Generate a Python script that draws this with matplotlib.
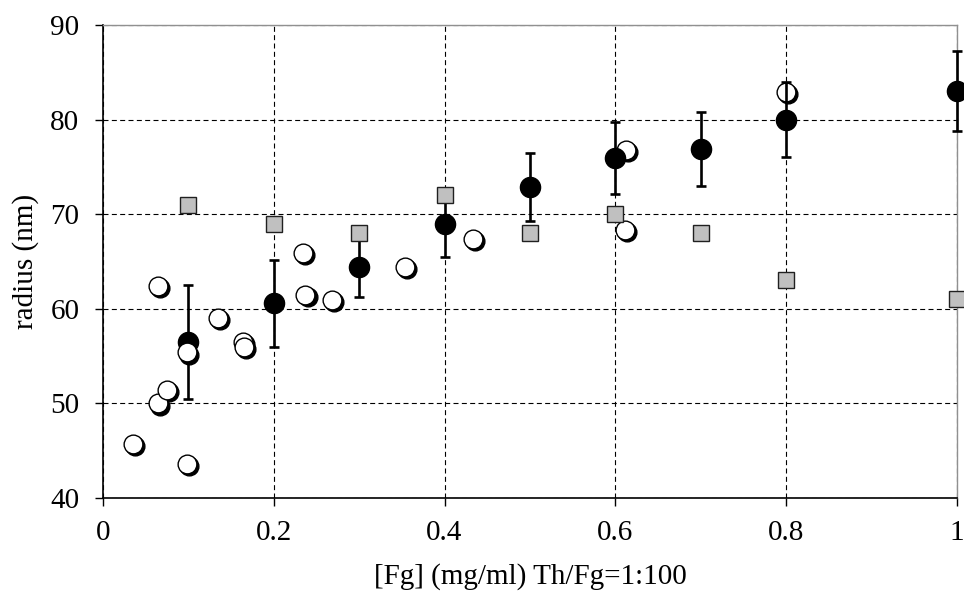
import matplotlib.pyplot as plt
from matplotlib.transforms import offset_copy

# -------------------------------------------------
# Data
# -------------------------------------------------
# mean radius with error bars (black circles)
fg_mean = [0.1, 0.2, 0.3, 0.4, 0.5, 0.6, 0.7, 0.8, 1.0]
r_mean = [56.5, 60.6, 64.4, 69.0, 72.9, 75.9, 76.9, 80.0, 83.0]
r_err = [6.0, 4.6, 3.2, 3.5, 3.6, 3.8, 3.9, 4.0, 4.2]

# grey squares
fg_sq = [0.1, 0.2, 0.3, 0.4, 0.5, 0.6, 0.7, 0.8, 1.0]
r_sq = [71.0, 69.0, 68.0, 72.0, 68.0, 70.0, 68.0, 63.0, 61.0]

# open circles (two runs)
fg_open1 = [0.035, 0.064, 0.064, 0.075, 0.098, 0.098, 0.135, 0.164, 0.165,
            0.234, 0.237, 0.268, 0.354, 0.433]
r_open1 = [45.7, 62.4, 50.0, 51.4, 55.4, 43.6, 59.0, 56.5, 56.0,
           65.9, 61.5, 60.9, 64.4, 67.4]
fg_open2 = [0.612, 0.611, 0.8]
r_open2 = [76.8, 68.3, 82.9]

# -------------------------------------------------
# Figure
# -------------------------------------------------
plt.rcParams['font.family'] = ['Liberation Serif', 'DejaVu Serif']

fig = plt.figure(figsize=(9.64, 6.01), dpi=100)
ax = fig.add_axes([0.1068, 0.1714, 0.8859, 0.787])


def open_circles(x, y, z):
    # black "shadow" a couple of pixels down-right, white disc on top
    shadow = offset_copy(ax.transData, fig=fig, x=2.2, y=-2.2, units='dots')
    ax.plot(x, y, 'o', ms=13.5, mfc='black', mec='black', mew=1,
            transform=shadow, zorder=z, clip_on=False)
    ax.plot(x, y, 'o', ms=13.5, mfc='white', mec='black', mew=1,
            zorder=z + 0.1, clip_on=False)


open_circles(fg_open2, r_open2, 3)

ax.errorbar(fg_mean, r_mean, yerr=r_err, fmt='o', color='black', ms=14.5,
            elinewidth=1.9, capsize=3.4, capthick=1.9, zorder=4, clip_on=False)

open_circles(fg_open1, r_open1, 5)

ax.plot(fg_sq, r_sq, 's', ms=12, mfc='#c0c0c0', mec='#202020', mew=1,
        zorder=6, clip_on=False)

# -------------------------------------------------
# Axes styling
# -------------------------------------------------
ax.set_xlim(0, 1)
ax.set_ylim(40, 90)
ax.set_xticks([0, 0.2, 0.4, 0.6, 0.8, 1.0])
ax.set_xticklabels(['0', '0.2', '0.4', '0.6', '0.8', '1'])
ax.set_yticks([40, 50, 60, 70, 80, 90])

ax.grid(True, color='black', linestyle=(0, (4.5, 3)), linewidth=0.8)
ax.set_axisbelow(True)

for s in ['top', 'right']:
    ax.spines[s].set_color('#909090')
    ax.spines[s].set_linewidth(1.0)
    ax.spines[s].set_zorder(2.5)
for s in ['left', 'bottom']:
    ax.spines[s].set_color('black')
    ax.spines[s].set_linewidth(1.2)

ax.tick_params(direction='out', length=6, width=1.0, labelsize=21)
ax.tick_params(axis='y', pad=11)
ax.tick_params(axis='x', pad=10)
ax.set_xlabel('[Fg] (mg/ml) Th/Fg=1:100', fontsize=21, labelpad=12)
ax.set_ylabel('radius (nm)', fontsize=21, labelpad=8)

fig.savefig('out.png', dpi=100)
